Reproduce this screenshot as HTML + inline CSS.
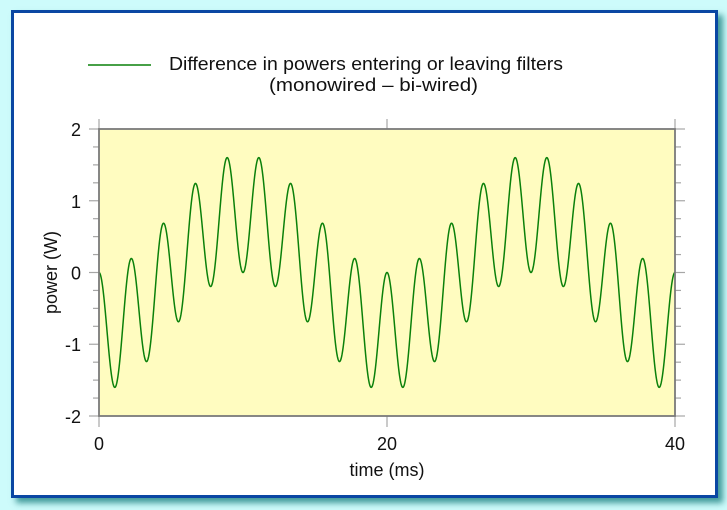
<!DOCTYPE html>
<html>
<head>
<meta charset="utf-8">
<style>
  html, body { margin:0; padding:0; }
  body { width:727px; height:510px; background:#cdfbfb; position:relative; overflow:hidden;
         font-family:"Liberation Sans", Arial, sans-serif; }
  #frame { position:absolute; left:11px; top:10px; width:707px; height:488px; box-sizing:border-box;
           border:3px solid #0a47a3; background:#ffffff;
           box-shadow: 5px 5px 6px rgba(30,130,130,0.8); }
  svg { position:absolute; left:0; top:0; }
  text { font-family:"Liberation Sans", Arial, sans-serif; fill:#111; font-size:18px; }
</style>
</head>
<body>
<div id="frame"></div>
<svg width="727" height="510" viewBox="0 0 727 510" xmlns="http://www.w3.org/2000/svg">
  <!-- legend -->
  <line x1="88" y1="65" x2="151" y2="65" stroke="#0a800a" stroke-width="1.4"/>
  <text x="169" y="70" textLength="394" lengthAdjust="spacingAndGlyphs">Difference in powers entering or leaving filters</text>
  <text x="373.5" y="91" text-anchor="middle" textLength="209" lengthAdjust="spacingAndGlyphs">(monowired – bi-wired)</text>

  <!-- plot background -->
  <rect x="99" y="129" width="576" height="287" fill="#fffcc0"/>

  <!-- ticks -->
  <g id="ticks" stroke="#a6a6a6" stroke-width="1.2" fill="none"></g>

  <!-- curve -->
  <clipPath id="clip"><rect x="99" y="120" width="577" height="305"/></clipPath>
  <path id="curve" d="" fill="none" stroke="#0a800a" stroke-width="1.5" clip-path="url(#clip)"/>

  <!-- plot border -->
  <rect x="99" y="129" width="576" height="287" fill="none" stroke="#7a7a7a" stroke-width="1.8"/>

  <!-- y tick labels -->
  <text x="81" y="136" text-anchor="end">2</text>
  <text x="81" y="208" text-anchor="end">1</text>
  <text x="81" y="279.5" text-anchor="end">0</text>
  <text x="81" y="351" text-anchor="end">-1</text>
  <text x="81" y="423" text-anchor="end">-2</text>

  <!-- x tick labels -->
  <text x="99" y="450" text-anchor="middle">0</text>
  <text x="387" y="450" text-anchor="middle">20</text>
  <text x="675" y="450" text-anchor="middle">40</text>

  <!-- axis titles -->
  <text x="387" y="476" text-anchor="middle">time (ms)</text>
  <text x="0" y="0" text-anchor="middle" transform="translate(57,272.5) rotate(-90)">power (W)</text>
</svg>
<script>
(function(){
  var X0=99, X1=675, Y0=129, Y1=416;
  var sx=(X1-X0)/40, yz=(Y0+Y1)/2, sy=(Y1-Y0)/4;
  var A=0.825;
  var d="";
  for(var i=0;i<=4000;i++){
    var t=i*0.01;
    var f=-A*Math.cos(2*Math.PI*0.05*t)+A*Math.cos(2*Math.PI*0.45*t);
    var x=X0+sx*t, y=yz-sy*f;
    d+=(i?"L":"M")+x.toFixed(2)+" "+y.toFixed(2);
  }
  document.getElementById("curve").setAttribute("d",d);

  var g=document.getElementById("ticks"), ns="http://www.w3.org/2000/svg";
  function ln(x1,y1,x2,y2){var l=document.createElementNS(ns,"line");
    l.setAttribute("x1",x1);l.setAttribute("y1",y1);l.setAttribute("x2",x2);l.setAttribute("y2",y2);g.appendChild(l);}
  for(var k=0;k<=16;k++){
    var y=Y0+k*(Y1-Y0)/16;
    if(k%4==0){ ln(89,y,X0,y); ln(X1,y,685,y); }
    else { ln(93,y,X0,y); ln(X1,y,681,y); }
  }
  [0,20,40].forEach(function(v){
    var x=X0+sx*v;
    ln(x,119,x,Y0); ln(x,Y1,x,427);
  });
})();
</script>
</body>
</html>
